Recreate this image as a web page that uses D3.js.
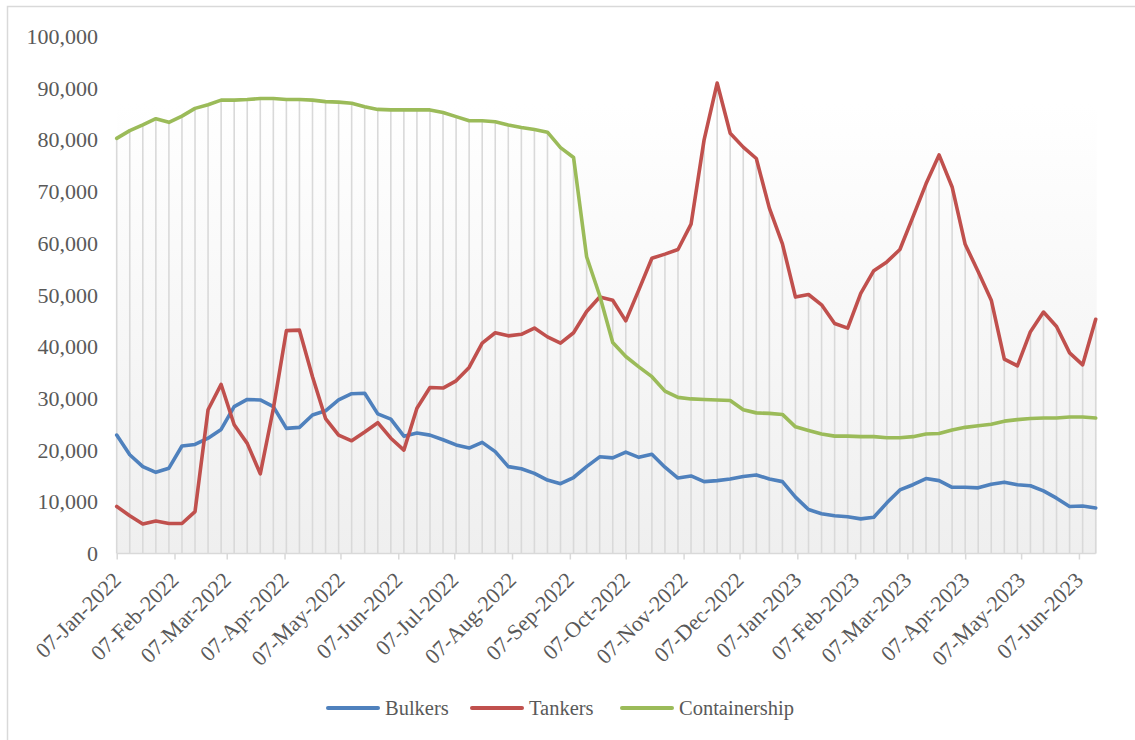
<!DOCTYPE html>
<html>
<head>
<meta charset="utf-8">
<script src="https://cdn.jsdelivr.net/npm/d3@7"></script>
<style>
  html, body { margin: 0; padding: 0; background: #ffffff; }
  svg { display: block; }
  text { font-family: "Liberation Serif", "Times New Roman", serif; fill: #595959; }
</style>
</head>
<body>
<svg id="chart" width="1135" height="740"></svg>
<script>
// Weekly observation dates (Fridays)
const weeks = [
  "2022-01-07","2022-01-14","2022-01-21","2022-01-28",
  "2022-02-04","2022-02-11","2022-02-18","2022-02-25",
  "2022-03-04","2022-03-11","2022-03-18","2022-03-25",
  "2022-04-01","2022-04-08","2022-04-15","2022-04-22","2022-04-29",
  "2022-05-06","2022-05-13","2022-05-20","2022-05-27",
  "2022-06-03","2022-06-10","2022-06-17","2022-06-24",
  "2022-07-01","2022-07-08","2022-07-15","2022-07-22","2022-07-29",
  "2022-08-05","2022-08-12","2022-08-19","2022-08-26",
  "2022-09-02","2022-09-09","2022-09-16","2022-09-23","2022-09-30",
  "2022-10-07","2022-10-14","2022-10-21","2022-10-28",
  "2022-11-04","2022-11-11","2022-11-18","2022-11-25",
  "2022-12-02","2022-12-09","2022-12-16","2022-12-23","2022-12-30",
  "2023-01-06","2023-01-13","2023-01-20","2023-01-27",
  "2023-02-03","2023-02-10","2023-02-17","2023-02-24",
  "2023-03-03","2023-03-10","2023-03-17","2023-03-24","2023-03-31",
  "2023-04-07","2023-04-14","2023-04-21","2023-04-28",
  "2023-05-05","2023-05-12","2023-05-19","2023-05-26",
  "2023-06-02","2023-06-09","2023-06-16"
];

const bulkers = [
  22900, 19100, 16800, 15700, 16500, 20800, 21100, 22300, 24000, 28400,
  29800, 29700, 28400, 24200, 24400, 26800, 27600, 29700, 30900, 31000,
  27000, 26000, 22700, 23300, 22900, 22000, 21000, 20400, 21500, 19700,
  16800, 16400, 15500, 14200, 13500, 14700, 16800, 18700, 18500, 19600,
  18600, 19200, 16700, 14600, 15000, 13900, 14100, 14400, 14900, 15200,
  14400, 13900, 10900, 8500, 7700, 7300, 7100, 6700, 7000, 9800,
  12300, 13300, 14500, 14100, 12800, 12800, 12700, 13400, 13800, 13300,
  13100, 12100, 10700, 9100, 9200, 8800
];

const tankers = [
  9100, 7300, 5700, 6300, 5800, 5800, 8100, 27800, 32700, 24900,
  21300, 15400, 28000, 43100, 43200, 34200, 26100, 22900, 21800, 23500,
  25300, 22300, 20000, 28100, 32100, 32000, 33400, 36000, 40700, 42700,
  42100, 42400, 43600, 41900, 40700, 42700, 46800, 49600, 49000, 45000,
  51000, 57100, 57900, 58800, 63700, 80000, 91000, 81300, 78600, 76400,
  66800, 59900, 49600, 50100, 48100, 44500, 43600, 50300, 54700, 56400,
  58800, 65100, 71500, 77100, 70900, 59800, 54500, 49000, 37600, 36300,
  42900, 46700, 43900, 38800, 36500, 45300
];

const containership = [
  80300, 81800, 82900, 84100, 83400, 84600, 86100, 86800, 87700, 87700,
  87800, 88000, 88000, 87800, 87800, 87700, 87400, 87300, 87100, 86400,
  85900, 85800, 85800, 85800, 85800, 85300, 84500, 83700, 83700, 83500,
  82900, 82400, 82000, 81500, 78500, 76600, 57400, 49900, 40800, 38100,
  36100, 34200, 31400, 30200, 29900, 29800, 29700, 29600, 27800, 27200,
  27100, 26900, 24500, 23800, 23100, 22700, 22700, 22600, 22600, 22400,
  22400, 22600, 23100, 23200, 23900, 24400, 24700, 25000, 25600, 25900,
  26100, 26200, 26200, 26400, 26400, 26200
];

// Dates labelled on the category axis
const tickDates = [
  "2022-01-07","2022-02-07","2022-03-07","2022-04-07","2022-05-07","2022-06-07",
  "2022-07-07","2022-08-07","2022-09-07","2022-10-07","2022-11-07","2022-12-07",
  "2023-01-07","2023-02-07","2023-03-07","2023-04-07","2023-05-07","2023-06-07"
];

const yTicks = [0, 10000, 20000, 30000, 40000, 50000, 60000, 70000, 80000, 90000, 100000];

const seriesNames = ["Bulkers", "Tankers", "Containership"];
const seriesColors = ["#4f81bd", "#c0504d", "#9bbb59"];
const seriesValues = [bulkers, tankers, containership];

// Value at which the plot-area shading begins
const shadeTop = 87000;

const parse = d3.utcParse("%Y-%m-%d");
const dates = weeks.map(parse);

const svg = d3.select("#chart");

const x = d3.scaleUtc()
  .domain([dates[0], dates[dates.length - 1]])
  .range([116.7, 1095.7]);

const y = d3.scaleLinear()
  .domain([0, 100000])
  .range([553.5, 36.5]);

// Outer chart border
svg.append("rect")
  .attr("x", 7.5).attr("y", 6.5)
  .attr("width", 1140).attr("height", 750)
  .attr("fill", "none")
  .attr("stroke", "#d9d9d9")
  .attr("stroke-width", 1.5);

// Plot-area gradient
const defs = svg.append("defs");
const grad = defs.append("linearGradient")
  .attr("id", "plotShade")
  .attr("x1", 0).attr("y1", 0).attr("x2", 0).attr("y2", 1);
grad.append("stop").attr("offset", "0%").attr("stop-color", "#ffffff");
grad.append("stop").attr("offset", "100%").attr("stop-color", "#efefef");

svg.append("rect")
  .attr("x", x(dates[0]))
  .attr("y", y(shadeTop))
  .attr("width", x(dates[dates.length - 1]) - x(dates[0]) + 1)
  .attr("height", y(0) - y(shadeTop))
  .attr("fill", "url(#plotShade)");

// Drop lines from the highest series to the axis
svg.append("g")
  .selectAll("line")
  .data(dates)
  .join("line")
  .attr("x1", d => x(d)).attr("x2", d => x(d))
  .attr("y1", (d, i) => y(Math.max(bulkers[i], tankers[i], containership[i])))
  .attr("y2", y(0))
  .attr("stroke", "#d9d9d9")
  .attr("stroke-width", 1.6);

// Horizontal axis
const xAxis = d3.axisBottom(x)
  .tickValues(tickDates.map(parse))
  .tickFormat(d3.utcFormat("%d-%b-%Y"))
  .tickSizeInner(6)
  .tickSizeOuter(0);

const gx = svg.append("g")
  .attr("transform", `translate(0,${y(0)})`)
  .call(xAxis);
gx.select(".domain")
  .attr("d", `M${x(dates[0])},0H${x(dates[dates.length - 1])}`)
  .attr("stroke", "#d9d9d9")
  .attr("stroke-width", 1.5);
gx.selectAll(".tick line").attr("stroke", "#d9d9d9").attr("stroke-width", 1.5);
gx.selectAll(".tick text")
  .attr("font-family", "Liberation Serif, Times New Roman, serif")
  .attr("font-size", 22)
  .attr("fill", "#595959")
  .attr("text-anchor", "end")
  .attr("dy", null)
  .attr("y", null)
  .attr("transform", "translate(5,28) rotate(-45)");

// Vertical axis labels
const yAxis = d3.axisLeft(y)
  .tickValues(yTicks)
  .tickFormat(d3.format(","))
  .tickSize(0)
  .tickPadding(0);
const gy = svg.append("g")
  .attr("transform", "translate(98,0)")
  .call(yAxis);
gy.select(".domain").remove();
gy.selectAll(".tick text")
  .attr("font-family", "Liberation Serif, Times New Roman, serif")
  .attr("font-size", 22)
  .attr("fill", "#595959");

// Series lines
const line = d3.line()
  .x((d, i) => x(dates[i]))
  .y(d => y(d));

svg.append("g")
  .selectAll("path")
  .data(seriesValues)
  .join("path")
  .attr("d", d => line(d))
  .attr("fill", "none")
  .attr("stroke", (d, i) => seriesColors[i])
  .attr("stroke-width", 3.6)
  .attr("stroke-linejoin", "round")
  .attr("stroke-linecap", "round");

// Legend
const legendX = [328, 472, 622];
const legend = svg.append("g")
  .selectAll("g")
  .data(seriesNames)
  .join("g")
  .attr("transform", (d, i) => `translate(${legendX[i]},708)`);
legend.append("line")
  .attr("x1", 0).attr("x2", 50)
  .attr("y1", 0).attr("y2", 0)
  .attr("stroke", (d, i) => seriesColors[i])
  .attr("stroke-width", 4)
  .attr("stroke-linecap", "round");
legend.append("text")
  .attr("x", 57)
  .attr("y", 7)
  .attr("font-size", 20.5)
  .text(d => d);
</script>
</body>
</html>
